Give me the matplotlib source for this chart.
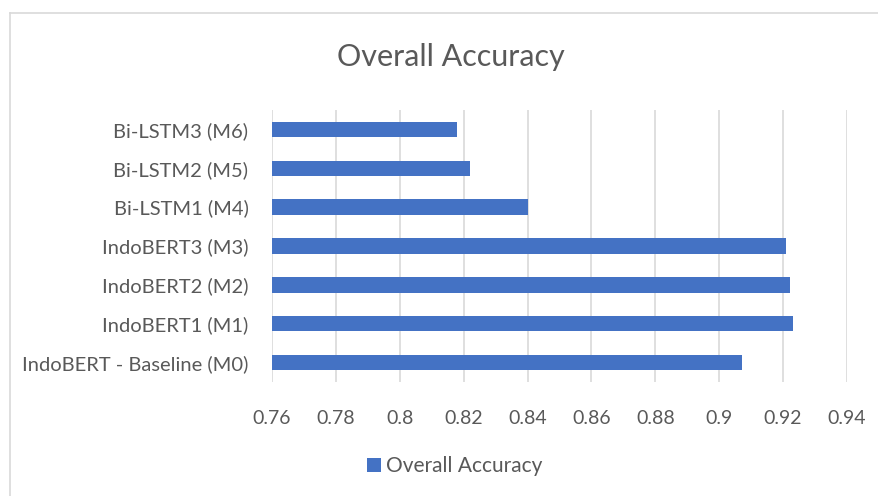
import matplotlib
matplotlib.use("Agg")
import matplotlib.pyplot as plt
from matplotlib.lines import Line2D

models = ["IndoBERT - Baseline (M0)", "IndoBERT1 (M1)", "IndoBERT2 (M2)", "IndoBERT3 (M3)",
          "Bi-LSTM1 (M4)", "Bi-LSTM2 (M5)", "Bi-LSTM3 (M6)"]
accuracy = [0.907, 0.923, 0.922, 0.921, 0.840, 0.822, 0.818]
ticks = [0.76, 0.78, 0.80, 0.82, 0.84, 0.86, 0.88, 0.90, 0.92, 0.94]
tick_labels = ["0.76", "0.78", "0.8", "0.82", "0.84", "0.86", "0.88", "0.9", "0.92", "0.94"]

plt.rcParams["font.family"] = ["Lato", "DejaVu Sans"]
TXT = "#595959"
BAR = "#4472C4"
GRID = "#D9D9D9"

fig = plt.figure(figsize=(8.79, 4.96), dpi=100)
ax = fig.add_axes([272 / 879, 1 - 382 / 496, (847 - 272) / 879, (382 - 110) / 496])

ax.barh(range(len(models)), accuracy, height=0.4, color=BAR, label="Overall Accuracy", zorder=3)
ax.set_xlim(0.76, 0.94)
ax.set_ylim(-0.5, len(models) - 0.5)
ax.set_xticks(ticks)
ax.set_xticklabels(tick_labels)
ax.set_yticks(range(len(models)))
ax.set_yticklabels(models)
ax.tick_params(axis="x", length=0, pad=20, labelsize=14, colors=TXT)
ax.tick_params(axis="y", length=0, pad=17, labelsize=14.5, colors=TXT)
ax.grid(axis="x", color=GRID, lw=1.2, zorder=0)
for sp in ax.spines.values():
    sp.set_visible(False)

fig.text(451 / 879, 1 - 57 / 496, "Overall Accuracy", ha="center", va="center",
         fontsize=22, color=TXT)

leg = fig.legend(loc="center", bbox_to_anchor=(455 / 879, 1 - 466 / 496), frameon=False,
                 fontsize=15, handlelength=0.65, handleheight=0.65, handletextpad=0.25)
for t in leg.get_texts():
    t.set_color(TXT)

# chart border (only left and top edges are visible in the crop)
fig.add_artist(Line2D([10 / 879, 10 / 879], [0, 1 - 13 / 496], transform=fig.transFigure,
                      color=GRID, lw=1.2))
fig.add_artist(Line2D([10 / 879, 1], [1 - 13 / 496, 1 - 13 / 496], transform=fig.transFigure,
                      color=GRID, lw=1.2))

fig.savefig("out.png", dpi=100, facecolor="white")
